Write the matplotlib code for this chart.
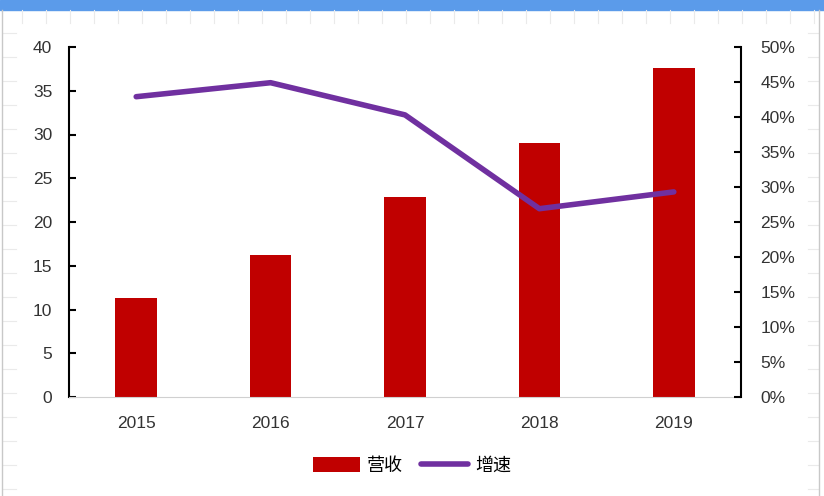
import matplotlib.pyplot as plt
from matplotlib.lines import Line2D
from matplotlib.patches import Rectangle
from matplotlib.ticker import FuncFormatter
import numpy as np

# data
years = ['2015', '2016', '2017', '2018', '2019']
revenue = [11.3, 16.2, 22.9, 29.0, 37.6]          # 营收
growth = [42.9, 44.9, 40.3, 26.9, 29.3]           # 增速, %

plt.rcParams['font.family'] = ['Liberation Sans', 'Noto Sans CJK SC', 'DejaVu Sans']
plt.rcParams['font.size'] = 12

fig = plt.figure(figsize=(8.24, 4.96), dpi=100)

# spreadsheet background: faint cell lines and the blue header strip
for gx in np.arange(22, 824, 24):
    fig.add_artist(Line2D([gx / 824, gx / 824], [1 - 10 / 496, 1 - 23 / 496], color='#EAEAEA', lw=0.8))
for gy in np.arange(33, 496, 24):
    fig.add_artist(Line2D([3 / 824, 16 / 824], [1 - gy / 496] * 2, color='#EAEAEA', lw=0.8))
    fig.add_artist(Line2D([808 / 824, 818 / 824], [1 - gy / 496] * 2, color='#EAEAEA', lw=0.8))
fig.add_artist(Rectangle((0, 1 - 10 / 496), 1, 10 / 496, color='#5B9BEA', transform=fig.transFigure))
fig.add_artist(Line2D([2 / 824, 2 / 824], [0, 1 - 10 / 496], color='#C8C8C8', lw=1))
fig.add_artist(Line2D([819 / 824, 819 / 824], [0, 1 - 10 / 496], color='#C8C8C8', lw=1))

ax = fig.add_axes([69 / 824, 99 / 496, 672 / 824, 350 / 496])
x = np.arange(len(years))
bars = ax.bar(x, revenue, width=0.31, color='#C00000', label='营收', zorder=2)
ax.set_xlim(-0.5, len(years) - 0.5)
ax.set_ylim(0, 40)
ax.set_yticks(range(0, 41, 5))
ax.set_xticks(x)
ax.set_xticklabels(years)

ax2 = ax.twinx()
line, = ax2.plot(x, growth, color='#7030A0', lw=4, solid_capstyle='round', label='增速', zorder=3)
ax2.set_ylim(0, 50)
ax2.set_yticks(range(0, 51, 5))
ax2.yaxis.set_major_formatter(FuncFormatter(lambda v, p: '%d%%' % v))

for a in (ax, ax2):
    a.spines['top'].set_visible(False)
    a.tick_params(axis='y', direction='in', length=5, width=1.5, colors='#000000',
                  labelcolor='#333333', labelsize=12.5)
ax.spines['left'].set_linewidth(1.5)
ax2.spines['right'].set_linewidth(1.5)
ax.spines['right'].set_visible(False)
ax2.spines['left'].set_visible(False)
ax.spines['bottom'].set_color('#D0D0D0')
ax2.spines['bottom'].set_visible(False)
ax.tick_params(axis='x', length=0, pad=14, labelcolor='#333333', labelsize=12.5)
ax.tick_params(axis='y', pad=12)
ax2.tick_params(axis='y', pad=14)

fig.legend([bars, line], ['营收', '增速'], loc='center', bbox_to_anchor=(412 / 824, 1 - 466 / 496),
           ncol=2, frameon=False, fontsize=13, handlelength=2.6, handleheight=0.9,
           columnspacing=1.0, handletextpad=0.4)

fig.savefig('out.png', dpi=100)
